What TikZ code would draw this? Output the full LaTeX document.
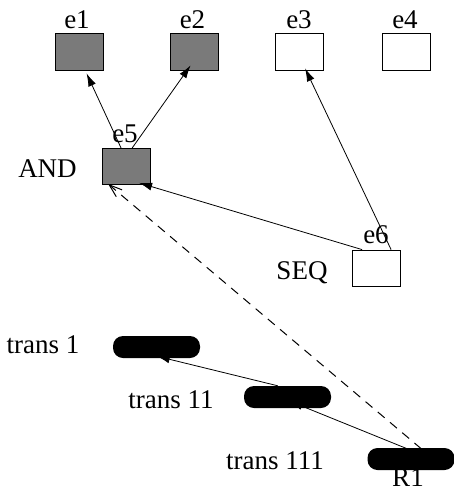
\documentclass[tikz,border=0pt]{standalone}
\usepackage{fontspec}
\setmainfont{Liberation Serif}
\usetikzlibrary{arrows.meta}
\begin{document}
\begin{tikzpicture}[x=1pt,y=-1pt,
  evbox/.style={draw=black,line width=0.8pt,minimum width=48pt,minimum height=37pt,inner sep=0pt},
  grayfill/.style={fill=black!52},
  pill/.style={fill=black,rounded corners=10pt,minimum width=87pt,minimum height=22pt,inner sep=0pt},
  lbl/.style={font=\fontsize{27}{30}\selectfont,inner sep=0pt,anchor=base},
  conn/.style={line width=0.8pt,-{Latex[length=13pt,width=8pt]}},
  dconn/.style={line width=1pt,dash pattern=on 9pt off 7pt,-{Straight Barb[length=13pt,width=9pt]}}]
\useasboundingbox (0,0) rectangle (454,491);
% boxes
\node[evbox,grayfill] (e1) at (79,51.5) {};
\node[evbox,grayfill] (e2) at (194,51.5) {};
\node[evbox] (e3) at (299.5,51.5) {};
\node[evbox] (e4) at (406,52) {};
\node[evbox,grayfill,minimum height=36pt] (e5) at (126.5,166.5) {};
\node[evbox,minimum height=36pt] (e6) at (376.5,268) {};
\node[pill] (t1) at (156.5,347) {};
\node[pill] (t11) at (287.5,397) {};
\node[pill] (t111) at (411,459) {};
% labels
\node[lbl] (l1) at (77,28) {e1};
\node[lbl] (l2) at (192.5,28) {e2};
\node[lbl] (l3) at (299,28) {e3};
\node[lbl] (l4) at (405,28) {e4};
\node[lbl] (l5) at (125,142) {e5};
\node[lbl] (land) at (47.5,177) {AND};
\node[lbl] (l6) at (376,243) {e6};
\node[lbl] (lseq) at (302,279) {SEQ};
\node[lbl] (lt1) at (43,353) {trans 1};
\node[lbl] (lt11) at (171,408) {trans 11};
\node[lbl] (lt111) at (275,469) {trans 111};
\node[lbl] (lr1) at (408,486) {R1};
% connectors
\draw[conn] ([xshift=19pt]e5.north west) -- ([xshift=32pt,yshift=-3pt]e1.south west);
\draw[conn] ([xshift=30pt]e5.north west) -- ([xshift=21pt,yshift=5pt]e2.south west);
\draw[conn] ([xshift=39pt]e6.north west) -- ([xshift=30pt,yshift=2pt]e3.south west);
\draw[conn] ([xshift=10pt]e6.north west) -- ([xshift=37pt,yshift=2pt]e5.south west);
\draw[dconn] ([xshift=54pt,yshift=-1pt]t111.north west) -- ([xshift=6pt,yshift=1pt]e5.south west);
\draw[conn] ([xshift=40pt,yshift=-1pt]t111.north west) -- ([xshift=46pt,yshift=7pt]t11.south west);
\draw[conn] ([xshift=34pt]t11.north west) -- ([xshift=44pt,yshift=2pt]t1.south west);
\end{tikzpicture}
\end{document}
